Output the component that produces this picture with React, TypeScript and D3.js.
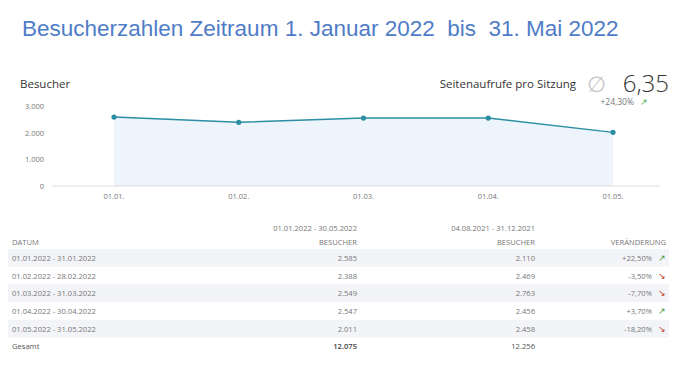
import React from "react";
import * as d3 from "d3";

const months = ["01.01.", "01.02.", "01.03.", "01.04.", "01.05."];
const visitors = [2585, 2388, 2549, 2547, 2011];
const yTicks = [0, 1000, 2000, 3000];

const periods = [
  "01.01.2022 - 31.01.2022",
  "01.02.2022 - 28.02.2022",
  "01.03.2022 - 31.03.2022",
  "01.04.2022 - 30.04.2022",
  "01.05.2022 - 31.05.2022",
];
const prevVisitors = [2110, 2469, 2763, 2456, 2458];
const changes = [22.5, -3.5, -7.7, 3.7, -18.2];
const totalCurrent = 12075;
const totalPrev = 12256;

const fmt = (v: number) => d3.format(",")(v).replace(/,/g, ".");
const pct = (v: number) => (v > 0 ? "+" : "") + v.toFixed(2).replace(".", ",") + "%";

export default function App() {
  const W = 675, H = 377;
  const x = d3.scalePoint<string>().domain(months).range([114, 613]);
  const y = d3.scaleLinear().domain([0, 3000]).range([186, 106]);
  const pts = months.map((m, i) => [x(m)!, y(visitors[i])] as [number, number]);
  const line = d3.line()(pts)!;
  const area = d3.area<[number, number]>().x(d => d[0]).y0(y(0)).y1(d => d[1])(pts)!;
  const font = "'Open Sans', sans-serif";
  const gray = "#777";
  const rowY0 = 249;
  const rowH = 17.7;
  const fs = 7.6;
  return (
    <svg width={W} height={H} style={{ position: "absolute", left: 0, top: 0, background: "#fff" }} fontFamily={font}>
      <rect width={W} height={H} fill="#fff" />
      <text x={22} y={36} fontFamily="'Liberation Sans', Arial, sans-serif" fontSize={22.5} fill="#4f7cc6" style={{ whiteSpace: "pre" }}>
        {"Besucherzahlen Zeitraum 1. Januar 2022  bis  31. Mai 2022"}
      </text>
      <text x={20} y={88} fontSize={11.5} fill="#333">Besucher</text>
      <text x={576} y={88} fontSize={11.5} fill="#333" textAnchor="end">Seitenaufrufe pro Sitzung</text>
      <text x={587} y={92} fontSize={22} fill="#c8c8c8">∅</text>
      <text x={669} y={92} fontSize={24} fill="#333" fontWeight={300} textAnchor="end">6,35</text>
      <text x={634} y={105} fontSize={8.5} fill={gray} textAnchor="end">+24,30%</text>
      <text x={640} y={105} fontSize={8.5} fill="#4caf50">↗</text>

      <path d={area} fill="#eef4fb" />
      <line x1={52} x2={660} y1={y(0)} y2={y(0)} stroke="#ddd" />
      <path d={line} fill="none" stroke="#2b8ea3" strokeWidth={1.5} />
      {pts.map((p, i) => (
        <circle key={i} cx={p[0]} cy={p[1]} r={2.6} fill="#2b8ea3" />
      ))}
      {yTicks.map(t => (
        <text key={t} x={44} y={y(t) + 3} fontSize={7.5} fill={gray} textAnchor="end">{fmt(t)}</text>
      ))}
      {months.map(m => (
        <text key={m} x={x(m)!} y={199} fontSize={7.5} fill={gray} textAnchor="middle">{m}</text>
      ))}

      <text x={357} y={231} fontSize={fs} fill={gray} textAnchor="end">01.01.2022 - 30.05.2022</text>
      <text x={535} y={231} fontSize={fs} fill={gray} textAnchor="end">04.08.2021 - 31.12.2021</text>
      <text x={12} y={245} fontSize={fs} fill={gray}>DATUM</text>
      <text x={357} y={245} fontSize={fs} fill={gray} textAnchor="end">BESUCHER</text>
      <text x={535} y={245} fontSize={fs} fill={gray} textAnchor="end">BESUCHER</text>
      <text x={666} y={245} fontSize={fs} fill={gray} textAnchor="end">VERÄNDERUNG</text>

      {periods.map((p, i) => {
        const top = rowY0 + i * rowH;
        const ty = top + rowH / 2 + 3;
        const up = changes[i] > 0;
        return (
          <g key={p}>
            {i % 2 === 0 && <rect x={8} y={top} width={661} height={rowH} fill="#f3f4f7" />}
            <text x={12} y={ty} fontSize={fs} fill={gray}>{p}</text>
            <text x={357} y={ty} fontSize={fs} fill={gray} textAnchor="end">{fmt(visitors[i])}</text>
            <text x={535} y={ty} fontSize={fs} fill={gray} textAnchor="end">{fmt(prevVisitors[i])}</text>
            <text x={652} y={ty} fontSize={fs} fill={gray} textAnchor="end">{pct(changes[i])}</text>
            <text x={658} y={ty} fontSize={9} fill={up ? "#3c9a3c" : "#c0392b"}>{up ? "↗" : "↘"}</text>
          </g>
        );
      })}
      <text x={12} y={rowY0 + 5 * rowH + rowH / 2 + 3} fontSize={fs} fill="#555">Gesamt</text>
      <text x={357} y={rowY0 + 5 * rowH + rowH / 2 + 3} fontSize={fs} fill="#444" textAnchor="end" fontWeight={600}>{fmt(totalCurrent)}</text>
      <text x={535} y={rowY0 + 5 * rowH + rowH / 2 + 3} fontSize={fs} fill="#555" textAnchor="end">{fmt(totalPrev)}</text>
    </svg>
  );
}
